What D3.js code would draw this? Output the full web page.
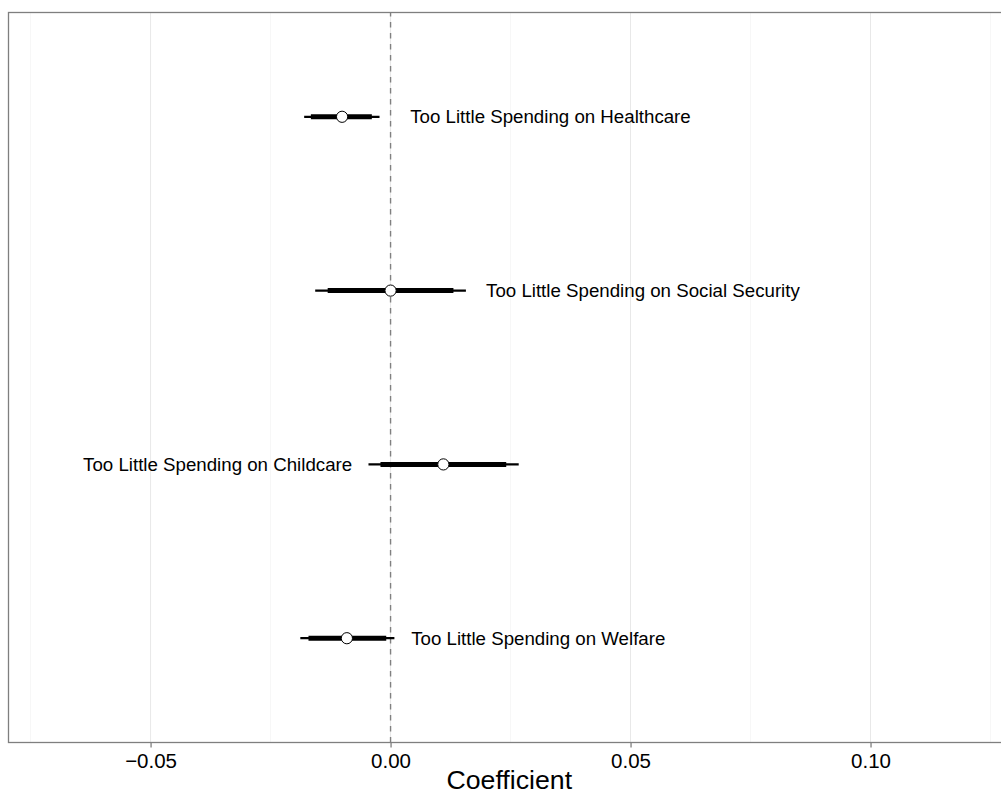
<!DOCTYPE html>
<html>
<head>
<meta charset="utf-8">
<script src="https://cdn.jsdelivr.net/npm/d3@7"></script>
<style>
  html, body { margin: 0; padding: 0; background: #fff; }
  svg { display: block; font-family: "Liberation Sans", Arial, Helvetica, sans-serif; }
</style>
</head>
<body>
<svg id="chart" width="1001" height="799"></svg>
<script>
// ---- data ----
const categories = [
  "Too Little Spending on Healthcare",
  "Too Little Spending on Social Security",
  "Too Little Spending on Childcare",
  "Too Little Spending on Welfare"
];
const estimate = [-0.0101, 0.0000, 0.0110, -0.0091];
const lower90  = [-0.0166, -0.0131, -0.0021, -0.0171];
const upper90  = [-0.0039, 0.0131, 0.0241, -0.0009];
const lower95  = [-0.0180, -0.0157, -0.0046, -0.0188];
const upper95  = [-0.0023, 0.0157, 0.0267, 0.0008];
const labelAt  = [0.0041, 0.0199, -0.0080, 0.0043];
const labelSide = ["right", "right", "left", "right"];
const xTicks = [-0.05, 0.00, 0.05, 0.10];
const xTickLabels = ["\u22120.05", "0.00", "0.05", "0.10"];
const xMinorTicks = [-0.075, -0.025, 0.025, 0.075, 0.125];
const xDomain = [-0.0796, 0.1276];
const xTitle = "Coefficient";

// ---- layout ----
const svg = d3.select("#chart");
const panel = { left: 8.5, top: 12.5, right: 1003, bottom: 742.5 };

const x = d3.scaleLinear().domain(xDomain).range([panel.left, panel.right]);
const y = d3.scalePoint().domain(categories).range([panel.top, panel.bottom]).padding(0.6);

const rows = categories.map((c, i) => ({
  cat: c, est: estimate[i], lo90: lower90[i], hi90: upper90[i],
  lo95: lower95[i], hi95: upper95[i], lab: labelAt[i], side: labelSide[i]
}));

// background
svg.append("rect").attr("x", panel.left).attr("y", panel.top)
  .attr("width", panel.right - panel.left).attr("height", panel.bottom - panel.top)
  .attr("fill", "#fff");

// minor grid
svg.append("g").selectAll("line").data(xMinorTicks).join("line")
  .attr("x1", d => x(d)).attr("x2", d => x(d))
  .attr("y1", panel.top).attr("y2", panel.bottom)
  .attr("stroke", "#f7f7f7").attr("stroke-width", 1);

// major grid
svg.append("g").selectAll("line").data(xTicks).join("line")
  .attr("x1", d => x(d)).attr("x2", d => x(d))
  .attr("y1", panel.top).attr("y2", panel.bottom)
  .attr("stroke", "#e8e8e8").attr("stroke-width", 1);

// zero reference line
svg.append("line")
  .attr("x1", x(0)).attr("x2", x(0))
  .attr("y1", panel.bottom).attr("y2", panel.top)
  .attr("stroke", "#808080").attr("stroke-width", 1.4)
  .attr("stroke-dasharray", "5.5,5.5");

// 95% intervals (thin)
svg.append("g").selectAll("line").data(rows).join("line")
  .attr("x1", d => x(d.lo95)).attr("x2", d => x(d.hi95))
  .attr("y1", d => y(d.cat)).attr("y2", d => y(d.cat))
  .attr("stroke", "#000").attr("stroke-width", 2.2);

// 90% intervals (thick)
svg.append("g").selectAll("line").data(rows).join("line")
  .attr("x1", d => x(d.lo90)).attr("x2", d => x(d.hi90))
  .attr("y1", d => y(d.cat)).attr("y2", d => y(d.cat))
  .attr("stroke", "#000").attr("stroke-width", 5);

// points
svg.append("g").selectAll("circle").data(rows).join("circle")
  .attr("cx", d => x(d.est)).attr("cy", d => y(d.cat))
  .attr("r", 5.6)
  .attr("fill", "#fff").attr("stroke", "#000").attr("stroke-width", 1);

// labels
svg.append("g").selectAll("text").data(rows).join("text")
  .attr("x", d => x(d.lab)).attr("y", d => y(d.cat))
  .attr("dy", "0.35em")
  .attr("text-anchor", d => d.side === "right" ? "start" : "end")
  .attr("font-size", "18.7px").attr("fill", "#000")
  .text(d => d.cat);

// panel border
svg.append("rect").attr("x", panel.left).attr("y", panel.top)
  .attr("width", panel.right - panel.left).attr("height", panel.bottom - panel.top)
  .attr("fill", "none").attr("stroke", "#7f7f7f").attr("stroke-width", 1.3);

// x axis
const xAxis = d3.axisBottom(x).tickValues(xTicks)
  .tickFormat((d, i) => xTickLabels[i]).tickSize(5).tickPadding(6);
const gx = svg.append("g").attr("transform", `translate(0,${panel.bottom})`).call(xAxis);
gx.select(".domain").remove();
gx.selectAll(".tick line").attr("stroke", "#7f7f7f").attr("stroke-width", 1.3);
gx.selectAll(".tick text").attr("font-size", "20.5px").attr("fill", "#000")
  .attr("font-family", "Liberation Sans, Arial, sans-serif");

// axis title (centred on the full plot width)
svg.append("text")
  .attr("x", (panel.left + 1010) / 2)
  .attr("y", 789)
  .attr("text-anchor", "middle")
  .attr("font-size", "26.7px").attr("fill", "#000")
  .text(xTitle);
</script>
</body>
</html>
